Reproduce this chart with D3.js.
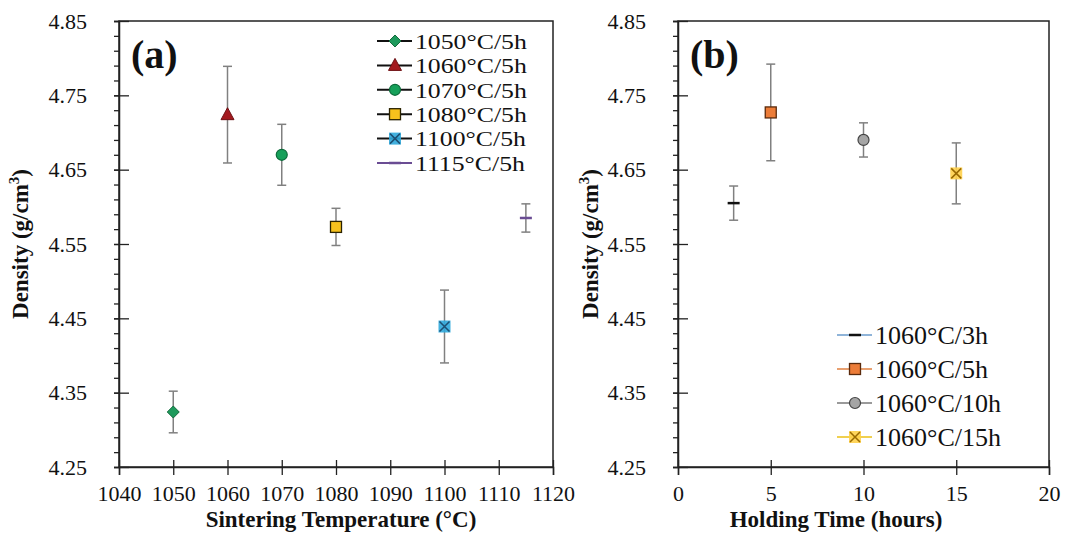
<!DOCTYPE html>
<html>
<head>
<meta charset="utf-8">
<script src="https://cdn.jsdelivr.net/npm/d3@7"></script>
<style>
  body { margin: 0; background: #fff; }
  svg text { font-family: "Liberation Serif", "Times New Roman", Times, serif; fill: #111; }
</style>
</head>
<body>
<div id="chart"></div>
<script>
// panel (a) - sintering temperature
const tempsA = [1050, 1060, 1070, 1080, 1100, 1115];
const densA = [4.324, 4.724, 4.670, 4.573, 4.439, 4.585];
const errA = [0.028, 0.065, 0.041, 0.025, 0.049, 0.019];
const labelsA = ["1050°C/5h", "1060°C/5h", "1070°C/5h", "1080°C/5h", "1100°C/5h", "1115°C/5h"];
const xTicksA = [1040, 1050, 1060, 1070, 1080, 1090, 1100, 1110, 1120];

// panel (b) - holding time
const timesB = [3, 5, 10, 15];
const densB = [4.605, 4.727, 4.690, 4.645];
const errB = [0.023, 0.065, 0.023, 0.041];
const labelsB = ["1060°C/3h", "1060°C/5h", "1060°C/10h", "1060°C/15h"];
const xTicksB = [0, 5, 10, 15, 20];

const yTicks = [4.25, 4.35, 4.45, 4.55, 4.65, 4.75, 4.85];
const yMinor = d3.range(4.25, 4.851, 0.02);

// marker styles, same order as the series
const styleA = [
  {shape: "diamond", fill: "#1e9a5c", stroke: "#146b3d", line: "#111"},
  {shape: "triangle", fill: "#a3191e", stroke: "#6e1014", line: "#111"},
  {shape: "circle", fill: "#16a05a", stroke: "#0d6b3b", line: "#111"},
  {shape: "square", fill: "#f6c11d", stroke: "#2a2200", line: "#111"},
  {shape: "xsquare", fill: "#2fa9db", stroke: "#1d4f72", line: "#111"},
  {shape: "dash", fill: "#6a4c93", stroke: "#6a4c93", line: "#6a4c93"}
];
const styleB = [
  {shape: "dash", fill: "#111", stroke: "#111", line: "#8fb4d9"},
  {shape: "square", fill: "#ec7c38", stroke: "#5a2a0c", line: "#e8a070"},
  {shape: "circle", fill: "#a5a5a5", stroke: "#444", line: "#9a9a9a"},
  {shape: "xsquare", fill: "#ffd04a", stroke: "#9a6a00", line: "#f0d050"}
];

const W = 1070, H = 535;
const svg = d3.select("#chart").append("svg").attr("width", W).attr("height", H);

function drawMarker(g, s, x, y) {
  if (s.shape == "diamond") {
    g.append("path").attr("d", `M${x},${y-6}L${x+6},${y}L${x},${y+6}L${x-6},${y}Z`)
      .attr("fill", s.fill).attr("stroke", s.stroke).attr("stroke-width", 1);
  } else if (s.shape == "triangle") {
    g.append("path").attr("d", `M${x},${y-7}L${x+6.5},${y+5}L${x-6.5},${y+5}Z`)
      .attr("fill", s.fill).attr("stroke", s.stroke).attr("stroke-width", 1);
  } else if (s.shape == "circle") {
    g.append("circle").attr("cx", x).attr("cy", y).attr("r", 5.5)
      .attr("fill", s.fill).attr("stroke", s.stroke).attr("stroke-width", 1.2);
  } else if (s.shape == "square") {
    g.append("rect").attr("x", x - 5.5).attr("y", y - 5.5).attr("width", 11).attr("height", 11)
      .attr("fill", s.fill).attr("stroke", s.stroke).attr("stroke-width", 1.3);
  } else if (s.shape == "xsquare") {
    g.append("rect").attr("x", x - 6).attr("y", y - 6).attr("width", 12).attr("height", 12)
      .attr("fill", s.fill).attr("opacity", 0.9);
    g.append("path").attr("d", `M${x-5},${y-5}L${x+5},${y+5}M${x-5},${y+5}L${x+5},${y-5}`)
      .attr("stroke", s.stroke).attr("stroke-width", 1.5);
  } else if (s.shape == "dash") {
    g.append("line").attr("x1", x - 6).attr("x2", x + 6).attr("y1", y).attr("y2", y)
      .attr("stroke", s.fill).attr("stroke-width", 2.5);
  }
}

function drawPanel(p) {
  const x = d3.scaleLinear().domain(p.xDomain).range([p.left, p.right]);
  const y = d3.scaleLinear().domain([4.25, 4.85]).range([p.bottom, p.top]);
  const g = svg.append("g");

  // frame
  g.append("rect").attr("x", p.left).attr("y", p.top)
    .attr("width", p.right - p.left).attr("height", p.bottom - p.top)
    .attr("fill", "none").attr("stroke", "#222").attr("stroke-width", 1.5);

  // y minor ticks
  g.append("g").attr("transform", `translate(${p.left},0)`)
    .call(d3.axisLeft(y).tickValues(yMinor).tickSize(5).tickFormat(""))
    .call(a => a.select(".domain").remove())
    .selectAll("line").attr("stroke", "#222").attr("stroke-width", 1.3);

  // y major ticks
  const ya = g.append("g").attr("transform", `translate(${p.left},0)`)
    .call(d3.axisLeft(y).tickValues(yTicks).tickSize(5).tickPadding(27).tickFormat(d3.format(".2f")));
  ya.select(".domain").attr("stroke", "#222").attr("stroke-width", 1.5);
  ya.selectAll(".tick line").attr("x1", 10).attr("x2", -5).attr("stroke", "#222").attr("stroke-width", 1.3);
  ya.selectAll("text").attr("font-size", 22).attr("font-family", "Liberation Serif").attr("fill", "#222");

  // x ticks
  const xa = g.append("g").attr("transform", `translate(0,${p.bottom})`)
    .call(d3.axisBottom(x).tickValues(p.xTicks).tickSize(8).tickPadding(10).tickFormat(d3.format("d")));
  xa.select(".domain").attr("stroke", "#222").attr("stroke-width", 1.5);
  xa.selectAll(".tick line").attr("y1", -7).attr("stroke", "#222").attr("stroke-width", 1.3);
  xa.selectAll("text").attr("font-size", 22).attr("font-family", "Liberation Serif").attr("fill", "#222");

  // axis titles
  g.append("text").attr("x", p.xTitleX).attr("y", 527).attr("text-anchor", "middle")
    .attr("font-size", 23).attr("font-weight", "bold").text(p.xTitle);
  const yt = g.append("text").attr("transform", `translate(${p.yTitleX},${(p.top + p.bottom) / 2}) rotate(-90)`)
    .attr("text-anchor", "middle").attr("font-size", 23).attr("font-weight", "bold");
  yt.append("tspan").text("Density (g/cm");
  yt.append("tspan").attr("font-size", 15).attr("dy", -9).text("3");
  yt.append("tspan").attr("dy", 9).text(")");

  // panel letter
  g.append("text").attr("x", p.left + 12).attr("y", 68).attr("font-size", 40)
    .attr("font-weight", "bold").text(p.letter);

  // error bars and markers
  p.xs.forEach((xv, i) => {
    const cx = x(xv), cy = y(p.ys[i]);
    const y1 = y(p.ys[i] + p.err[i]), y2 = y(p.ys[i] - p.err[i]);
    const eb = g.append("g").attr("stroke", "#808080").attr("stroke-width", 1.5);
    eb.append("line").attr("x1", cx).attr("x2", cx).attr("y1", y1).attr("y2", y2);
    eb.append("line").attr("x1", cx - 4.5).attr("x2", cx + 4.5).attr("y1", y1).attr("y2", y1);
    eb.append("line").attr("x1", cx - 4.5).attr("x2", cx + 4.5).attr("y1", y2).attr("y2", y2);
    drawMarker(g, p.styles[i], cx, cy);
  });

  // legend
  p.labels.forEach((lab, i) => {
    const ly = p.legY + i * p.legStep;
    const s = p.styles[i];
    g.append("line").attr("x1", p.legX).attr("x2", p.legX + 35).attr("y1", ly).attr("y2", ly)
      .attr("stroke", s.line).attr("stroke-width", 2);
    drawMarker(g, s, p.legX + 18, ly);
    const t = g.append("text").attr("x", p.legX + 38).attr("y", ly).attr("dy", "0.35em")
      .attr("font-size", p.legFont).text(lab);
    // the tight legend in (a) uses a smaller font stretched to the reference width
    if (p.legStretch != 1) {
      const len = t.node().getComputedTextLength();
      t.attr("textLength", len * p.legStretch).attr("lengthAdjust", "spacingAndGlyphs");
    }
  });
}

drawPanel({
  left: 119, right: 553, top: 21, bottom: 467,
  xDomain: [1040, 1120], xTicks: xTicksA,
  xs: tempsA, ys: densA, err: errA, labels: labelsA, styles: styleA,
  xTitle: "Sintering Temperature (°C)", xTitleX: 341, yTitleX: 28,
  letter: "(a)", legX: 377, legY: 41, legStep: 24.4, legFont: 22, legStretch: 1.17
});

drawPanel({
  left: 678, right: 1049, top: 21, bottom: 467,
  xDomain: [0, 20], xTicks: xTicksB,
  xs: timesB, ys: densB, err: errB, labels: labelsB, styles: styleB,
  xTitle: "Holding Time (hours)", xTitleX: 836, yTitleX: 598,
  letter: "(b)", legX: 837, legY: 335, legStep: 34, legFont: 26, legStretch: 1
});
</script>
</body>
</html>
